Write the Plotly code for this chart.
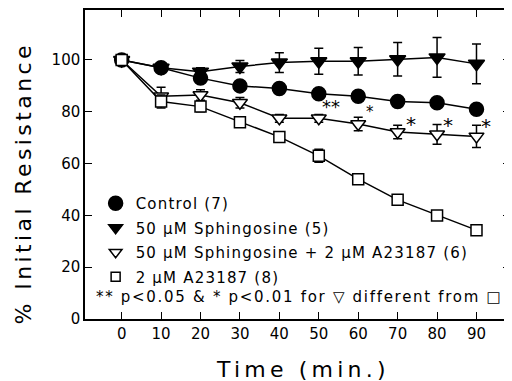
import plotly.graph_objects as go

time = [0, 10, 20, 30, 40, 50, 60, 70, 80, 90]

control = [100, 97, 93, 90, 89, 87, 86, 84, 83.5, 81]
control_err = [0.5, 1, 1, 1, 1, 1, 1, 1, 1, 1]

sph = [100, 97, 95.5, 97.5, 99, 99.5, 99.5, 100.3, 101, 98.5]
sph_err = [0.5, 1, 1.5, 2.3, 3.8, 5, 5.3, 6.5, 7.7, 7.7]

sph_a23 = [100, 86, 86.5, 83.5, 77.5, 77.5, 75.3, 72.2, 71.3, 70.5]
sph_a23_err = [0.5, 3.5, 2, 2, 1.5, 1.5, 2.6, 2.6, 3.8, 4.3]

a23 = [100, 84, 82, 76, 70.3, 63, 54, 46, 40, 34.3]
a23_err = [0.5, 2.5, 2, 1, 1, 2.5, 1, 1, 1, 1]

sig_times = [50, 60, 70, 80, 90]
sig_vals = [77.5, 75.3, 72.2, 71.3, 70.5]
sig_labels = ["**", "*", "*", "*", "*"]

names = ["Control (7)", "50 μM Sphingosine (5)",
         "50 μM Sphingosine + 2 μM A23187 (6)", "2 μM A23187 (8)"]

x_title = "Time (min.)"
y_title = "% Initial Resistance"
note = "** p<0.05 & * p<0.01 for ▽ different from □"

FONT = "DejaVu Sans"


def spaced(txt, px):
    return f'<span style="letter-spacing:{px}px">{txt}</span>'


fig = go.Figure()

series = [
    (control, control_err, "circle", "black", 14),
    (sph, sph_err, "triangle-down", "black", 14),
    (sph_a23, sph_a23_err, "triangle-down", "white", 13),
    (a23, a23_err, "square", "white", 11),
]

for (vals, err, sym, fill, size) in series:
    fig.add_trace(go.Scatter(
        x=time, y=vals, mode="lines+markers", showlegend=False,
        line=dict(color="black", width=1.5),
        marker=dict(symbol=sym, color=fill, size=size,
                    line=dict(color="black", width=1.5)),
        error_y=dict(type="data", array=err, visible=True,
                     color="black", thickness=1.5, width=4.5),
    ))

legend_sizes = [14, 12, 11, 9]
for i, (vals, err, sym, fill, size) in enumerate(series):
    fig.add_trace(go.Scatter(
        x=[None], y=[None], mode="markers", name=spaced(names[i], 1.2),
        legendgroup=f"g{i}",
        marker=dict(symbol=sym, color=fill, size=legend_sizes[i],
                    line=dict(color="black", width=1.5)),
    ))

shifts = [(12, 12), (12, 12), (13, 8), (11, 9), (10, 10)]
for (t, v, lab), (dx, dy) in zip(zip(sig_times, sig_vals, sig_labels), shifts):
    fig.add_annotation(x=t, y=v, text=lab, showarrow=False,
                       xshift=dx, yshift=dy,
                       font=dict(family=FONT, size=18 if lab == "**" else (15 if t == 60 else 20),
                                 color="black"))

fig.add_annotation(xref="paper", yref="paper", x=0.022, y=0.07,
                   xanchor="left", yanchor="middle", showarrow=False,
                   text=spaced(note, 1.7),
                   font=dict(family=FONT, size=15, color="black"))

# axis titles
fig.add_annotation(xref="paper", yref="paper", x=0.513, y=-0.162,
                   xanchor="center", yanchor="middle", showarrow=False,
                   text=spaced(x_title, 4.2),
                   font=dict(family=FONT, size=22, color="black"))
fig.add_annotation(xref="paper", yref="paper", x=-0.145, y=0.44,
                   xanchor="center", yanchor="middle", showarrow=False,
                   textangle=-90, text=spaced(y_title, 3.4),
                   font=dict(family=FONT, size=22, color="black"))

fig.update_layout(
    width=504, height=373,
    margin=dict(l=77, r=0, t=2, b=62),
    paper_bgcolor="white", plot_bgcolor="white",
    font=dict(family=FONT, size=15, color="black"),
    legend=dict(x=0.025, y=0.427, xanchor="left", yanchor="top",
                bgcolor="rgba(0,0,0,0)", tracegroupgap=2,
                traceorder="grouped", font=dict(family=FONT, size=15)),
    xaxis=dict(range=[-9.3, 98.5], tickvals=time, ticks="inside", ticklen=7,
               showgrid=False, zeroline=False, showline=True, linecolor="black",
               linewidth=1.5, mirror="ticks", tickwidth=1.2, tickcolor="black",
               tickfont=dict(family=FONT, size=15)),
    yaxis=dict(range=[0, 119.3], tickvals=[0, 20, 40, 60, 80, 100], ticks="inside",
               ticklen=7, showgrid=False, zeroline=False, showline=True,
               linecolor="black", linewidth=1.5, mirror="ticks", tickwidth=1.2,
               tickcolor="black",
               tickfont=dict(family=FONT, size=15)),
)

fig.write_html("out.html")
